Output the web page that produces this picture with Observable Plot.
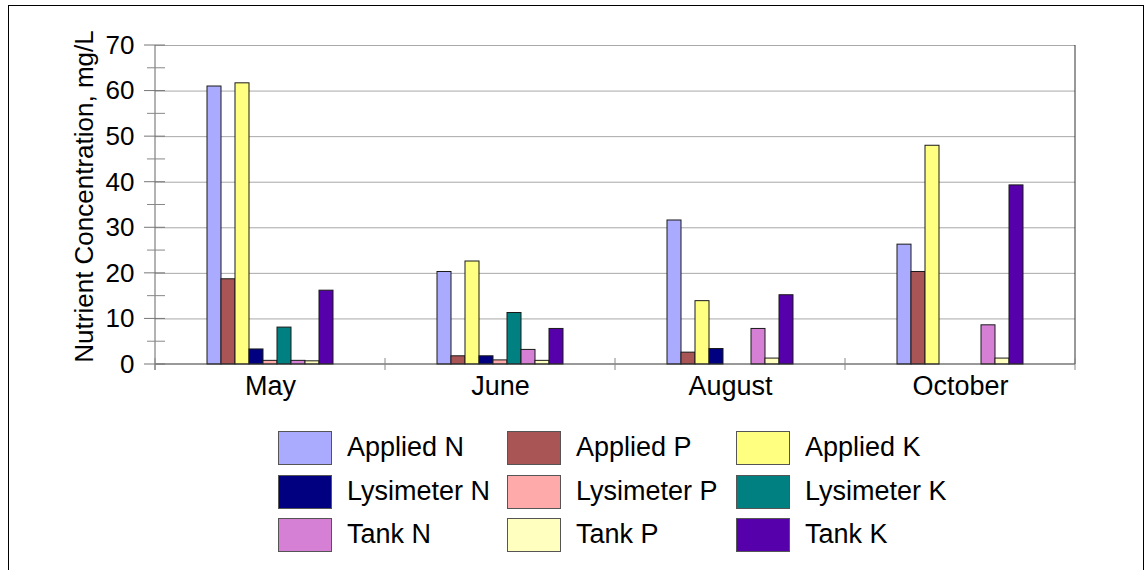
<!DOCTYPE html>
<html>
<head>
<meta charset="utf-8">
<script src="https://cdn.jsdelivr.net/npm/d3@7"></script>
<script src="https://cdn.jsdelivr.net/npm/@observablehq/plot@0.6"></script>
<style>
  html, body { margin: 0; padding: 0; background: #fff; }
  body { width: 1147px; height: 570px; overflow: hidden; position: relative; font-family: "Liberation Sans", Arial, sans-serif; }
  #border { position: absolute; left: 8px; top: 5px; width: 1134px; height: 600px; border: 1px solid #000; border-bottom: none; }
  #chart { position: absolute; left: 0; top: 0; }
  #legend { position: absolute; left: 278px; top: 431px; display: grid; grid-template-columns: 229px 229px 229px; grid-auto-rows: 43.5px; }
  .item { display: flex; align-items: flex-start; }
  .sw { width: 52px; height: 32px; border: 1px solid #555; box-sizing: content-box; }
  .lab { margin-left: 15px; font-size: 27px; line-height: 33px; color: #000; white-space: nowrap; }
</style>
</head>
<body>
<div id="border"></div>
<div id="chart"></div>
<div id="legend"></div>
<script>
// ---- data ----
const months = ["May", "June", "August", "October"];
const series = ["Applied N", "Applied P", "Applied K", "Lysimeter N", "Lysimeter P", "Lysimeter K", "Tank N", "Tank P", "Tank K"];
const colors = ["#aaaaff", "#aa5555", "#ffff80", "#000080", "#ffaaaa", "#008080", "#d580d5", "#ffffc0", "#5500aa"];
const appliedN    = [61.0, 20.3, 31.6, 26.3];
const appliedP    = [18.7, 1.8, 2.6, 20.3];
const appliedK    = [61.7, 22.6, 13.9, 48.0];
const lysimeterN  = [3.3, 1.8, 3.4, null];
const lysimeterP  = [0.8, 0.9, null, null];
const lysimeterK  = [8.1, 11.3, null, null];
const tankN       = [0.8, 3.2, 7.8, 8.6];
const tankP       = [0.7, 0.8, 1.3, 1.3];
const tankK       = [16.2, 7.8, 15.2, 39.3];
const yTicks = [0, 10, 20, 30, 40, 50, 60, 70];
const yMinorTicks = [5, 15, 25, 35, 45, 55, 65];
const yLabel = "Nutrient Concentration, mg/L";

const valuesBySeries = [appliedN, appliedP, appliedK, lysimeterN, lysimeterP, lysimeterK, tankN, tankP, tankK];
const data = [];
months.forEach((m, i) => {
  series.forEach((s, j) => {
    const v = valuesBySeries[j][i];
    if (v != null) data.push({month: m, series: s, value: v});
  });
});

const plot = Plot.plot({
  width: 1147,
  height: 410,
  marginLeft: 153,
  marginRight: 71,
  marginTop: 45,
  marginBottom: 46,
  style: {fontFamily: "'Liberation Sans', Arial, sans-serif", fontSize: "26px", color: "#000", background: "transparent"},
  fx: {domain: months, padding: 0, label: null},
  x: {domain: series, axis: null, paddingInner: 0, paddingOuter: 3.6},
  y: {domain: [0, 70], label: null},
  color: {domain: series, range: colors},
  marks: [
    Plot.gridY(yTicks.slice(1), {stroke: "#a8a8a8", strokeOpacity: 1, strokeWidth: 1}),
    Plot.barY(data, {fx: "month", x: "series", y: "value", fill: "series", stroke: "#1a1a1a", strokeWidth: 1}),
    Plot.axisFx({anchor: "bottom", tickSize: 0, tickPadding: 11, fontSize: 27, label: null}),
    Plot.axisY({ticks: yTicks, tickSize: 0, tickPadding: 21, fontSize: 26, label: null})
  ]
});

document.getElementById("chart").appendChild(plot);

// decorations drawn from the library's own scales
const svg = d3.select(plot);
const fxS = plot.scale("fx");
const yS = plot.scale("y");
const left = fxS.apply(months[0]);
const right = fxS.apply(months[months.length - 1]) + fxS.bandwidth;
const y0 = yS.apply(0), yTop = yS.apply(70);
const g = svg.append("g").attr("fill", "none");
g.append("line").attr("x1", left).attr("x2", right).attr("y1", y0).attr("y2", y0).attr("stroke", "#333");
g.append("line").attr("x1", right).attr("x2", right).attr("y1", yTop).attr("y2", y0).attr("stroke", "#333");
g.append("line").attr("x1", left).attr("x2", left).attr("y1", yTop).attr("y2", y0 + 6).attr("stroke", "#666");
yTicks.forEach(t => g.append("line").attr("x1", left - 11).attr("x2", left + 10).attr("y1", yS.apply(t)).attr("y2", yS.apply(t)).attr("stroke", "#777"));
yMinorTicks.forEach(t => g.append("line").attr("x1", left - 8).attr("x2", left + 10).attr("y1", yS.apply(t)).attr("y2", yS.apply(t)).attr("stroke", "#888"));
const bounds = months.map(m => fxS.apply(m)).concat([right]);
bounds.forEach(b => g.append("line").attr("x1", b).attr("x2", b).attr("y1", y0 - 6).attr("y2", y0 + 6).attr("stroke", "#888"));

// y axis title
svg.append("text")
  .attr("transform", `translate(${left - 62},${(yTop + y0) / 2 - 8}) rotate(-90)`)
  .attr("text-anchor", "middle")
  .attr("font-size", 26)
  .attr("fill", "#000")
  .text(yLabel);

// legend
const legend = document.getElementById("legend");
series.forEach((s, j) => {
  const it = document.createElement("div");
  it.className = "item";
  const sw = document.createElement("div");
  sw.className = "sw";
  sw.style.background = colors[j];
  const lab = document.createElement("div");
  lab.className = "lab";
  lab.textContent = s;
  it.appendChild(sw); it.appendChild(lab);
  legend.appendChild(it);
});
</script>
</body>
</html>
